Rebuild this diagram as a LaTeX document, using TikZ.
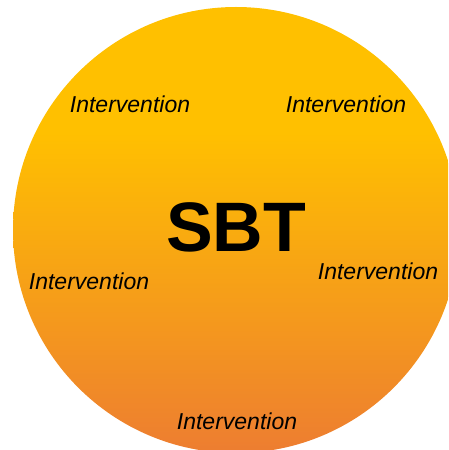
\documentclass[tikz,border=0pt]{standalone}
\usepackage{fontspec}
\setmainfont{Liberation Sans}
\usetikzlibrary{positioning}

\definecolor{sbttop}{HTML}{FFC000}
\definecolor{sbtbottom}{HTML}{ED7D31}
\pgfdeclareverticalshading{sbtfill}{100bp}{color(0bp)=(sbtbottom); color(25bp)=(sbtbottom); color(61bp)=(sbttop); color(100bp)=(sbttop)}

\begin{document}
\begin{tikzpicture}[x=1pt, y=1pt,
  iv/.style={font=\fontsize{23}{23}\selectfont\itshape, inner sep=0, anchor=base}]

% Define radius
\def\r{223}

% Frame
\useasboundingbox (0,0) rectangle (448,450);
\clip (0,0) rectangle (448,450);

% Disc
\shade[shading=sbtfill] (236,220) circle (\r);

% Title
\node[font=\fontsize{70}{70}\selectfont\bfseries, inner sep=0, anchor=base] (sbt) at (236,198) {SBT};

% Interventions
\node[iv] (iv1) at (130,337) {Intervention};
\node[iv] (iv2) at (346,337) {Intervention};
\node[iv] (iv3) at (89,160) {Intervention};
\node[iv] (iv4) at (378,170) {Intervention};
\node[iv] (iv5) at (237,20) {Intervention};

\end{tikzpicture}
\end{document}
